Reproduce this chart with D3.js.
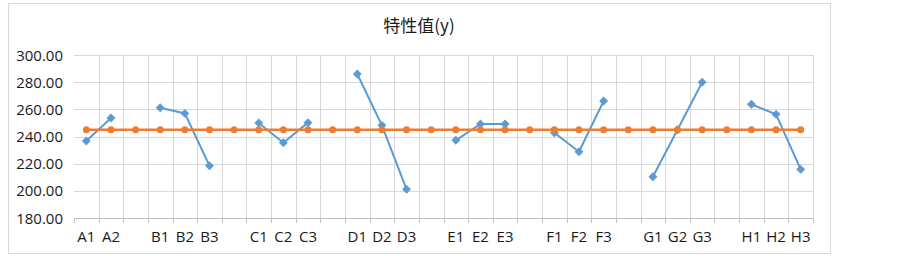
<!DOCTYPE html>
<html lang="zh">
<head>
<meta charset="UTF-8">
<title>特性值(y)</title>
<script src="https://d3js.org/d3.v7.min.js"></script>
<style>
    body { margin: 0; background: #fff; font-family: 'Open Sans', 'Noto Sans', sans-serif; }
    svg { display: block; }
    .grid line { stroke: #d9d9d9; stroke-width: 1; }
    text { fill: #1a1a1a; }
</style>
</head>
<body>
<svg id="chart" width="903" height="256"></svg>
<script>
// categories (blank slots separate the groups)
const categories = ["A1", "A2", "", "B1", "B2", "B3", "", "C1", "C2", "C3", "",
    "D1", "D2", "D3", "", "E1", "E2", "E3", "", "F1", "F2", "F3", "",
    "G1", "G2", "G3", "", "H1", "H2", "H3"];
// measured characteristic value
const yValues = [236.7, 253.6, null, 261.2, 257.0, 218.5, null, 250.0, 235.4, 250.2, null,
    286.0, 248.2, 201.1, null, 237.2, 249.2, 249.2, null, 242.8, 228.8, 266.1, null,
    210.4, 245.0, 279.9, null, 263.7, 256.3, 215.8];
// average line
const meanValues = categories.map(() => 245.0);
const yTicks = [180, 200, 220, 240, 260, 280, 300];

const svg = d3.select("#chart");
const margin = { left: 74, right: 813, top: 55, bottom: 218 };

// chart frame
svg.append("rect")
    .attr("x", 8.5).attr("y", 3.5)
    .attr("width", 822).attr("height", 250)
    .attr("fill", "#fff").attr("stroke", "#d9d9d9");

svg.append("text")
    .attr("x", 419).attr("y", 32)
    .attr("text-anchor", "middle")
    .style("font-size", "17px")
    .style("font-family", "'Noto Sans CJK SC', sans-serif")
    .text("特性值(y)");

const x = d3.scaleBand()
    .domain(d3.range(categories.length))
    .range([margin.left, margin.right]);

const y = d3.scaleLinear()
    .domain([180, 300])
    .range([margin.bottom, margin.top]);

// horizontal grid
svg.append("g").attr("class", "grid")
    .selectAll("line")
    .data(yTicks.slice(1))
    .enter().append("line")
    .attr("x1", margin.left).attr("x2", margin.right)
    .attr("y1", d => Math.round(y(d)) + 0.5)
    .attr("y2", d => Math.round(y(d)) + 0.5);

// vertical grid at band boundaries
const bounds = d3.range(categories.length + 1).map(i => margin.left + i * x.step());
svg.append("g").attr("class", "grid")
    .selectAll("line")
    .data(bounds.slice(1))
    .enter().append("line")
    .attr("x1", d => Math.round(d) + 0.5).attr("x2", d => Math.round(d) + 0.5)
    .attr("y1", margin.top).attr("y2", margin.bottom);

// y axis labels
svg.append("g")
    .selectAll("text")
    .data(yTicks)
    .enter().append("text")
    .attr("x", 63)
    .attr("y", d => y(d) + 5.5)
    .attr("text-anchor", "end")
    .style("font-size", "15px")
    .text(d => d3.format(".2f")(d));

// x axis
const xAxis = svg.append("g");
xAxis.append("line")
    .attr("x1", margin.left).attr("x2", margin.right)
    .attr("y1", margin.bottom + 0.5).attr("y2", margin.bottom + 0.5)
    .attr("stroke", "#bfbfbf");
xAxis.selectAll(".tick")
    .data(bounds)
    .enter().append("line")
    .attr("x1", d => Math.round(d) + 0.5).attr("x2", d => Math.round(d) + 0.5)
    .attr("y1", margin.bottom).attr("y2", margin.bottom + 5)
    .attr("stroke", "#bfbfbf");
xAxis.selectAll("text")
    .data(categories)
    .enter().append("text")
    .attr("x", (d, i) => x(i) + x.bandwidth() / 2)
    .attr("y", 242)
    .attr("text-anchor", "middle")
    .style("font-size", "15px")
    .text(d => d);

const line = d3.line()
    .defined(d => d != null)
    .x((d, i) => x(i) + x.bandwidth() / 2)
    .y(d => y(d));

// measured series
svg.append("path")
    .datum(yValues)
    .attr("fill", "none")
    .attr("stroke", "#5b9bd5")
    .attr("stroke-width", 2)
    .attr("d", line);

svg.append("g")
    .selectAll("path")
    .data(yValues.map((v, i) => ({ v, i })).filter(d => d.v != null))
    .enter().append("path")
    .attr("d", d3.symbol(d3.symbolSquare, 28))
    .attr("transform", d => `translate(${x(d.i) + x.bandwidth() / 2},${y(d.v)}) rotate(45)`)
    .attr("fill", "#5b9bd5")
    .attr("stroke", "#5b9bd5")
    .attr("stroke-width", 1);

// mean series
svg.append("path")
    .datum(meanValues)
    .attr("fill", "none")
    .attr("stroke", "#ed7d31")
    .attr("stroke-width", 2.5)
    .attr("d", line);

svg.append("g")
    .selectAll("circle")
    .data(meanValues)
    .enter().append("circle")
    .attr("cx", (d, i) => x(i) + x.bandwidth() / 2)
    .attr("cy", d => y(d))
    .attr("r", 3.5)
    .attr("fill", "#ed7d31");
</script>
</body>
</html>
